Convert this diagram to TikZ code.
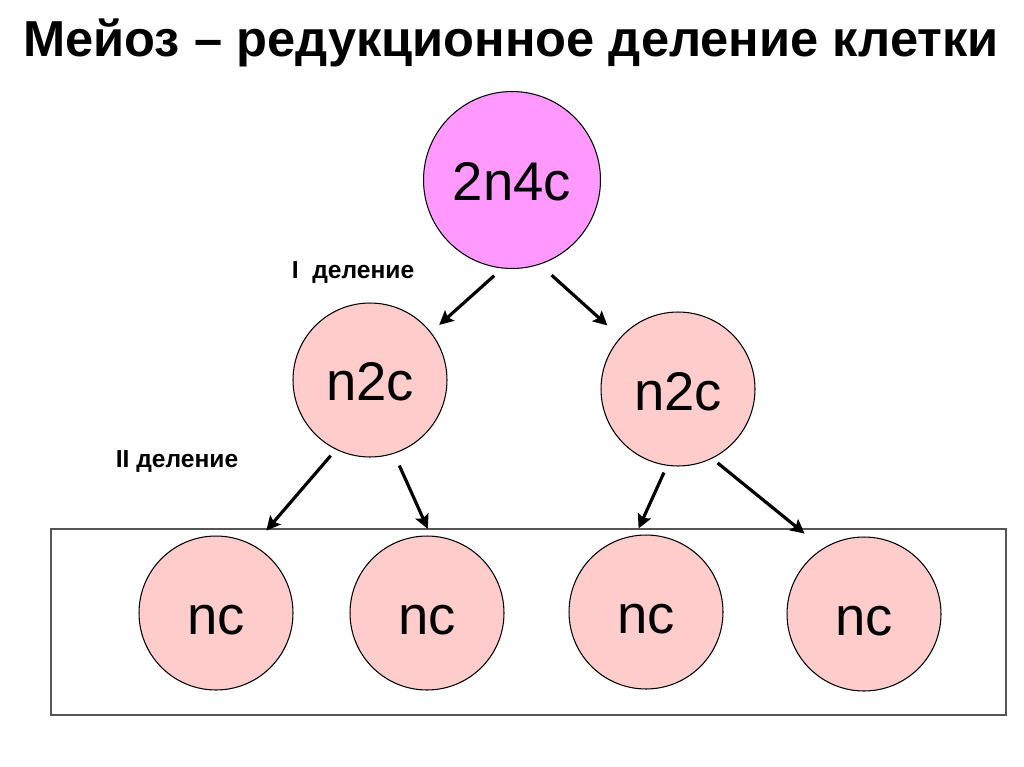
\documentclass[tikz,border=0pt]{standalone}
\usepackage{fontspec}
\setmainfont{Liberation Sans}
\definecolor{MeiosisViolet}{HTML}{FF99FF}
\definecolor{MeiosisPink}{HTML}{FFCCCC}
\definecolor{BoxGrey}{HTML}{555555}
\usetikzlibrary{arrows.meta}

\begin{document}
\begin{tikzpicture}[x=0.02cm, y=-0.02cm,
    cell/.style={circle, draw=black, line width=0.6pt, fill=MeiosisPink, inner sep=0pt,
      outer sep=0pt, minimum size=3.08cm, text height=0.84cm, text depth=0cm,
      font=\fontsize{31}{36}\selectfont},
    divarrow/.style={-{Stealth[length=8pt, width=8pt, inset=1.5pt]}, line width=1.8pt}]
  \useasboundingbox (0,0) rectangle (1024,767);
  % Title
  \node[anchor=base, font=\fontsize{28.8}{34}\selectfont\bfseries] (title) at (511,57)
    {Мейоз – редукционное деление клетки};
  % Box round the daughter cells
  \draw[BoxGrey, line width=1.1pt] (51,529) rectangle (1006,715);
  % Cells
  \node[cell, fill=MeiosisViolet, minimum size=3.54cm] (mother) at (512,180) {2n4c};
  \node[cell] (leftcell) at (370,380) {n2c};
  \node[cell] (rightcell) at (678,389) {n2c};
  \node[cell] (nca) at (216,613) {nc};
  \node[cell] (ncb) at (427,613) {nc};
  \node[cell] (ncc) at (646,612) {nc};
  \node[cell] (ncd) at (864,614) {nc};
  % Division labels
  \node[anchor=base, font=\fontsize{14}{16}\selectfont\bfseries] (firstdiv) at (353,278) {I~~деление};
  \node[anchor=base, font=\fontsize{14}{16}\selectfont\bfseries] (seconddiv) at (177,467) {II деление};
  % First division
  \draw[divarrow, shorten <=0.23cm, shorten >=0.23cm] (mother.264) -- (leftcell.38);
  \draw[divarrow, shorten <=0.33cm, shorten >=0.36cm] (mother.288) -- (rightcell.138);
  % Second division
  \draw[divarrow, shorten <=0.17cm, shorten >=0.40cm] (leftcell.244) -- (nca.61);
  \draw[divarrow, shorten <=0.27cm, shorten >=0.16cm] (leftcell.288) -- (ncb.87);
  \draw[divarrow, shorten <=0.16cm, shorten >=0.16cm] (rightcell.262) -- (ncc.98);
  \draw[divarrow, shorten <=0.15cm, shorten >=0.48cm] (rightcell.296) -- (ncd.122);
\end{tikzpicture}
\end{document}
